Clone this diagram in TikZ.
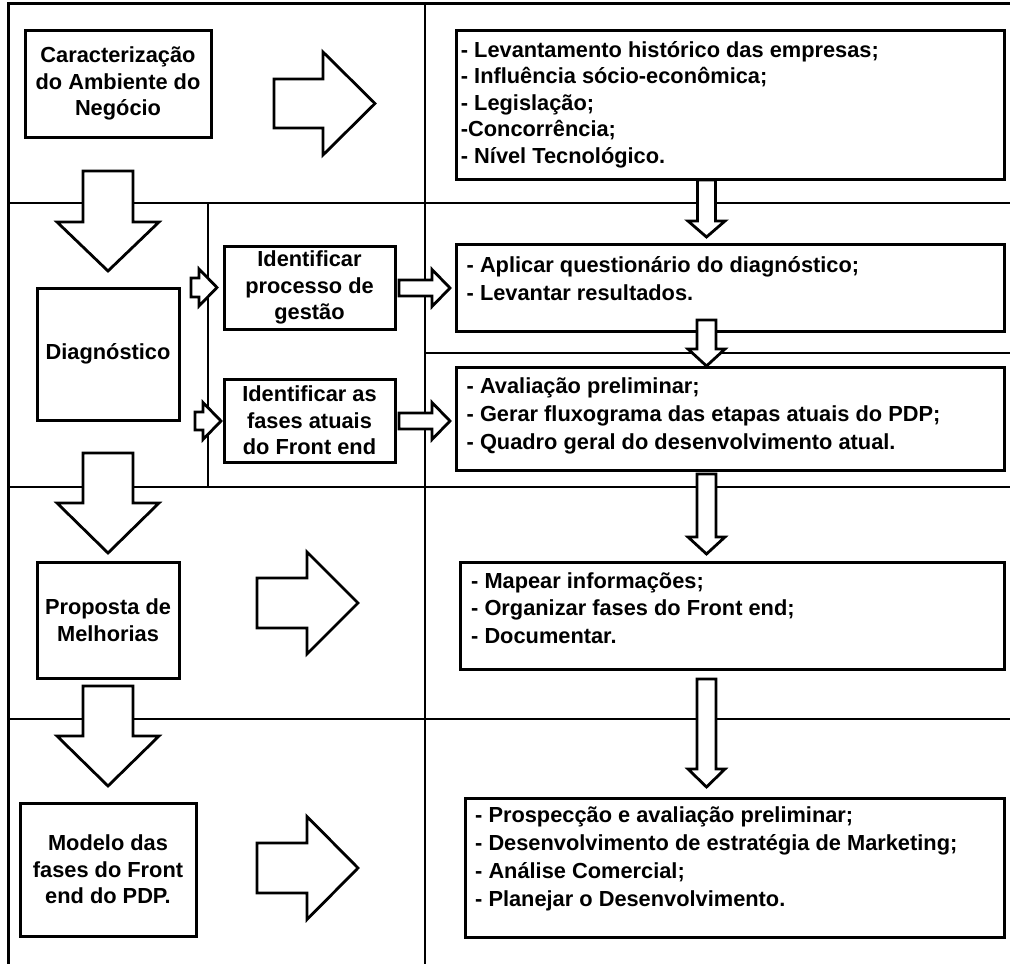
\documentclass[tikz,border=0pt]{standalone}
\usepackage{fontspec}
\setmainfont{Liberation Sans}

% block arrow pointing right: shaft left x, centre y, head base x, tip x, shaft half height, head half height
\newcommand\blockright[6]{%
  \draw[blk] (#1,#2-#5) -- (#3,#2-#5) -- (#3,#2-#6) -- (#4,#2) -- (#3,#2+#6)
    -- (#3,#2+#5) -- (#1,#2+#5) -- cycle;}
% block arrow pointing down: centre x, shaft top y, head base y, tip y, shaft half width, head half width
\newcommand\blockdown[6]{%
  \draw[blk] (#1-#5,#2) -- (#1-#5,#3) -- (#1-#6,#3) -- (#1,#4) -- (#1+#6,#3)
    -- (#1+#5,#3) -- (#1+#5,#2) -- cycle;}
\newcommand\firstline{\rule{0pt}{20pt}}

\begin{document}
\begin{tikzpicture}[x=1pt,y=-1pt,
  frame/.style={line width=3pt, line join=miter},
  grid/.style={line width=1.8pt},
  box/.style={draw, line width=3pt, fill=white, inner sep=0pt, outer sep=0pt,
    anchor=north west},
  lbl/.style={font=\fontsize{21.8}{26.5}\selectfont\bfseries, align=center},
  items/.style={font=\fontsize{21.8}{#1}\selectfont\bfseries, align=left,
    inner sep=0pt, anchor=north west},
  blk/.style={draw, line width=2.8pt, fill=white, line join=miter},
]
\useasboundingbox (0,0) rectangle (1010,964);

% table frame and row / column rules
\draw[frame] (8,964) -- (8,3.5) -- (1010,3.5);
\draw[grid] (425,3.5) -- (425,964);
\draw[grid] (8,203) -- (1010,203);
\draw[grid] (8,487) -- (1010,487);
\draw[grid] (8,719) -- (1010,719);
\draw[grid] (425,353) -- (1010,353);
\draw[grid] (208,203) -- (208,487);

% stages
\node[box, lbl, minimum width=186, minimum height=107] (amb) at (25,30)
  {Caracterização\\do Ambiente do\\Negócio};
\node[box, lbl, minimum width=142, minimum height=132] (diag) at (37,288)
  {Diagnóstico};
\node[box, lbl, minimum width=142, minimum height=116] (prop) at (37,562)
  {Proposta de\\Melhorias};
\node[box, lbl, minimum width=176, minimum height=133] (mod) at (20,803)
  {Modelo das\\fases do Front\\end do PDP.};

% diagnosis sub-steps
\node[box, lbl, minimum width=171, minimum height=83] (gest) at (224,246)
  {Identificar\\processo de\\gestão};
\node[box, lbl, minimum width=171, minimum height=83] (fases) at (224,379)
  {Identificar as\\fases atuais\\do Front end};

% activity boxes
\node[box, minimum width=547.5, minimum height=149] (b7) at (456.5,30) {};
\node[box, minimum width=548, minimum height=87] (b8) at (456.5,244) {};
\node[box, minimum width=548, minimum height=103] (b9) at (456.5,367) {};
\node[box, minimum width=544, minimum height=107] (b10) at (460.5,562) {};
\node[box, minimum width=539.5, minimum height=139] (b11) at (465,798) {};

\node[items=26.5] (t7) at (460.7,37) {\firstline- Levantamento histórico das empresas;\\
  - Influência sócio-econômica;\\- Legislação;\\-Concorrência;\\- Nível Tecnológico.};
\node[items=28] (t8) at (466.5,252) {\firstline- Aplicar questionário do diagnóstico;\\
  - Levantar resultados.};
\node[items=28] (t9) at (466.5,373.5) {\firstline- Avaliação preliminar;\\
  - Gerar fluxograma das etapas atuais do PDP;\\- Quadro geral do desenvolvimento atual.};
\node[items=27.5] (t10) at (471,568) {\firstline- Mapear informações;\\
  - Organizar fases do Front end;\\- Documentar.};
\node[items=28] (t11) at (475,802.5) {\firstline- Prospecção e avaliação preliminar;\\
  - Desenvolvimento de estratégia de Marketing;\\- Análise Comercial;\\
  - Planejar o Desenvolvimento.};

% flow between stages
\blockdown{108}{171}{222}{271}{25}{51}
\blockdown{108}{453}{503}{553}{25}{51}
\blockdown{108}{686}{736}{786}{25}{51}

% stage to activities
\blockright{274}{103.5}{323}{375}{24.5}{51.5}
\blockright{257}{603}{307}{358}{25}{51}
\blockright{257}{868}{307}{358}{25}{51.5}

% diagnosis branches
\blockright{191}{287.5}{199}{217}{9.5}{18.5}
\blockright{195}{421}{203}{221}{9}{18.5}
\blockright{399}{288}{432}{450}{8}{18.5}
\blockright{399}{421}{432}{450}{8}{18.5}

% activities chain
\blockdown{706.5}{180}{221}{237}{9}{18.5}
\blockdown{706.5}{320}{349}{366}{9.5}{18.5}
\blockdown{706.5}{474}{537}{554}{9.5}{18.5}
\blockdown{706.5}{679}{769}{787}{9.5}{18.5}
\end{tikzpicture}
\end{document}
